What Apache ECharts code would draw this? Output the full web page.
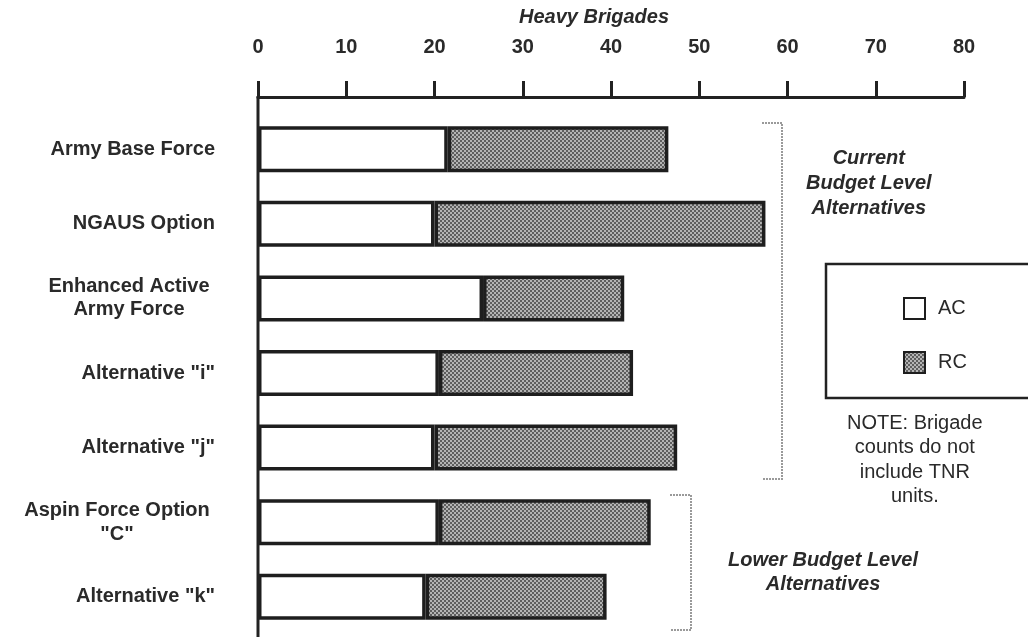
<!DOCTYPE html>
<html>
<head>
<meta charset="utf-8">
<style>
  html, body { margin: 0; padding: 0; background: #fff; }
  #chart { width: 1028px; height: 637px; }
</style>
<script src="https://cdn.jsdelivr.net/npm/echarts@6/dist/echarts.min.js"></script>
</head>
<body>
<div id="chart"></div>
<script>
// data (heavy brigades)
const categories = [
  'Army Base Force',
  'NGAUS Option',
  '{e|Enhanced Active}\n{e|Army Force}',
  'Alternative "i"',
  'Alternative "j"',
  '{a|Aspin Force Option}\n{a|"C"}',
  'Alternative "k"'
];
const acValues = [21.5, 20, 25.5, 20.5, 20, 20.5, 19];
const rcValues = [25, 37.5, 16, 22, 27.5, 24, 20.5];
const xTicks = [0, 80, 10]; // min, max, interval

const FONT = '"Liberation Sans", Arial, sans-serif';
const INK = '#2a2a2a';
const GRID_LEFT = 258, GRID_RIGHT = 64, GRID_TOP = 112, GRID_HEIGHT = 522;

// grey dotted fill like the halftone in the original
function makePattern() {
  const c = document.createElement('canvas');
  c.width = 4; c.height = 4;
  const ctx = c.getContext('2d');
  ctx.fillStyle = '#b4b4b4';
  ctx.fillRect(0, 0, 4, 4);
  ctx.fillStyle = '#5e5e5e';
  ctx.fillRect(0, 0, 2, 2);
  ctx.fillRect(2, 2, 2, 2);
  return c;
}

const chart = echarts.init(document.getElementById('chart'), null, { renderer: 'canvas' });

const labelRich = {
  e: { width: 172, align: 'center', fontFamily: FONT, fontWeight: 'bold', fontSize: 20, color: INK, lineHeight: 23 },
  a: { width: 196, align: 'center', fontFamily: FONT, fontWeight: 'bold', fontSize: 20, color: INK, lineHeight: 24 }
};

const option = {
  animation: false,
  backgroundColor: '#fff',
  title: {
    text: 'Heavy Brigades',
    left: 514,
    top: 2,
    textStyle: { fontFamily: FONT, fontWeight: 'bold', fontStyle: 'italic', fontSize: 20, color: INK }
  },
  grid: { left: GRID_LEFT, right: GRID_RIGHT, top: GRID_TOP, height: GRID_HEIGHT },
  xAxis: {
    type: 'value',
    position: 'top',
    offset: 15,
    min: xTicks[0],
    max: xTicks[1],
    interval: xTicks[2],
    splitLine: { show: false },
    axisLine: { show: true, lineStyle: { color: '#222', width: 3 } },
    axisTick: { show: true, length: 16, lineStyle: { color: '#222', width: 3 } },
    axisLabel: { margin: 40, fontFamily: FONT, fontWeight: 'bold', fontSize: 20, color: INK }
  },
  yAxis: {
    type: 'category',
    inverse: true,
    data: categories,
    axisLine: { show: false },
    axisTick: { show: false },
    axisLabel: {
      margin: 43,
      fontFamily: FONT, fontWeight: 'bold', fontSize: 20, color: INK,
      rich: labelRich
    }
  },
  legend: {
    data: ['AC', 'RC'],
    orient: 'vertical',
    left: 903,
    top: 297,
    padding: 0,
    itemWidth: 21,
    itemHeight: 21,
    itemGap: 31,
    icon: 'rect',
    textStyle: { fontFamily: FONT, fontSize: 20, color: INK, padding: [0, 0, 0, 8] }
  },
  series: [
    {
      name: 'AC',
      type: 'bar',
      stack: 'total',
      barWidth: 46,
      data: acValues,
      itemStyle: { color: '#fff', borderColor: '#1e1e1e', borderWidth: 3.5 }
    },
    {
      name: 'RC',
      type: 'bar',
      stack: 'total',
      barWidth: 46,
      data: rcValues,
      itemStyle: { color: { image: makePattern(), repeat: 'repeat' }, borderColor: '#1e1e1e', borderWidth: 3.5 }
    }
  ],
  graphic: [
    // left axis line, running from the top axis to the bottom edge
    { type: 'line', z: 10, shape: { x1: GRID_LEFT, y1: GRID_TOP - 16, x2: GRID_LEFT, y2: 637 }, style: { stroke: '#222', lineWidth: 3 } },
    // dotted brackets
    { type: 'polyline', shape: { points: [[762, 123], [782, 123], [782, 479], [762, 479]] }, style: { stroke: '#9a9a9a', lineWidth: 2, lineDash: [2, 1], fill: null } },
    { type: 'polyline', shape: { points: [[670, 495], [691, 495], [691, 630], [670, 630]] }, style: { stroke: '#9a9a9a', lineWidth: 2, lineDash: [2, 1], fill: null } },
    {
      type: 'text', left: 806, top: 146,
      style: { text: 'Current\nBudget Level\nAlternatives', textAlign: 'center', fontFamily: FONT, fontWeight: 'bold', fontStyle: 'italic', fontSize: 20, lineHeight: 25, fill: INK }
    },
    {
      type: 'text', left: 728, top: 548,
      style: { text: 'Lower Budget Level\nAlternatives', textAlign: 'center', fontFamily: FONT, fontWeight: 'bold', fontStyle: 'italic', fontSize: 20, lineHeight: 24, fill: INK }
    },
    // legend frame
    { type: 'rect', shape: { x: 826, y: 264, width: 240, height: 134 }, style: { stroke: '#222', lineWidth: 2.5, fill: null } },
    {
      type: 'text', left: 847, top: 411,
      style: { text: 'NOTE: Brigade\ncounts do not\ninclude TNR\nunits.', textAlign: 'center', fontFamily: FONT, fontSize: 20, lineHeight: 24.5, fill: INK }
    }
  ]
};

chart.setOption(option);
</script>
</body>
</html>
